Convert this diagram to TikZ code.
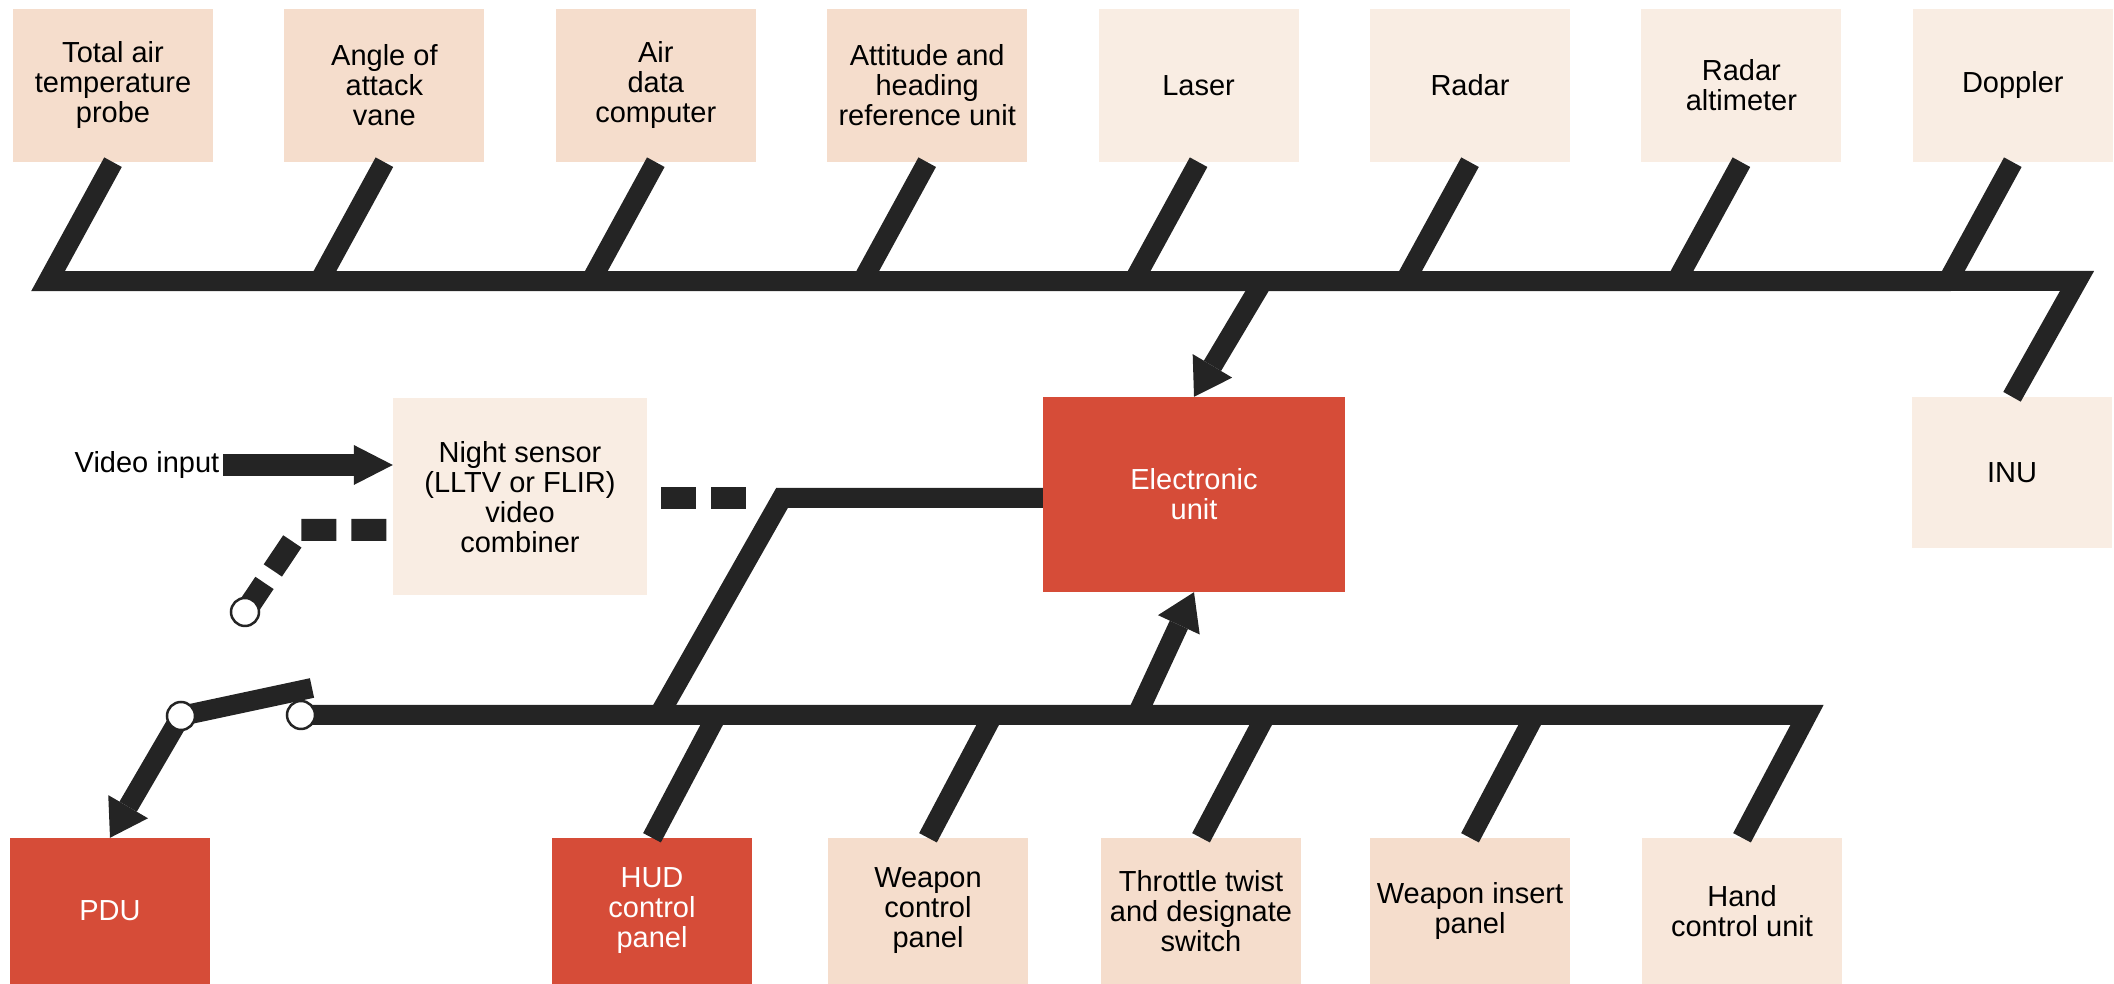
\documentclass[tikz,border=0pt]{standalone}
\usepackage{fontspec}
\setmainfont{Liberation Sans}
\usetikzlibrary{positioning, arrows.meta}

\definecolor{busgray}{RGB}{36,36,36}
\definecolor{peach}{RGB}{245,221,204}
\definecolor{cream}{RGB}{249,237,227}
\definecolor{blush}{RGB}{248,231,218}
\definecolor{unitred}{RGB}{214,76,56}

\begin{document}
\begin{tikzpicture}[
        x=1pt, y=1pt,
        box/.style = {minimum width=200pt, inner sep=2pt, align=center, font=\fontsize{29pt}{30pt}\selectfont},
        S/.style = {box, fill=peach, minimum height=153pt},
        C/.style = {box, fill=cream, minimum height=153pt},
        P/.style = {minimum height=146pt},
        R/.style = {box, fill=unitred, text=white},
        bus/.style = {line width=20pt, busgray},
        dashbus/.style = {line width=22pt, busgray, dash pattern=on 35pt off 15pt},
        arrow/.style = {bus, -{Triangle[length=36pt, width=46pt, line width=0pt]}},
        term/.style = {circle, draw=busgray, fill=white, line width=2.5pt, minimum size=28pt, inner sep=0pt}
    ]
    \useasboundingbox (0,0) rectangle (2114,984);

    % sensors on the top bus
    \node[S] (tat) at (113,898.5) {Total air\\temperature\\probe};
    \node[S, right=71pt of tat] (aoa) {Angle of\\attack\\vane};
    \node[S, right=71pt of aoa] (adc) {Air\\data\\computer};
    \node[S, right=71pt of adc] (ahr) {Attitude and\\heading\\reference unit};
    \node[C, right=71pt of ahr] (las) {Laser};
    \node[C, right=71pt of las] (rad) {Radar};
    \node[C, right=71pt of rad] (ral) {Radar\\altimeter};
    \node[C, right=71pt of ral] (dop) {Doppler};

    \node[C, minimum height=151pt] (inu) at (2012,511.5) {INU};
    \node[R, minimum width=302pt, minimum height=195pt] (eu) at (1194,489.5) {Electronic\\unit};
    \node[C, minimum width=254pt, minimum height=197pt] (nsc) at (520,487) {Night sensor\\(LLTV or FLIR)\\video\\combiner};
    \node[font=\fontsize{29pt}{30pt}\selectfont, inner sep=4pt] (vin) at (147,519) {Video input};

    % units on the bottom bus
    \node[R, P] (pdu) at (110,73) {PDU};
    \node[R, P] (hud) at (652,73) {HUD\\control\\panel};
    \node[S, P] (wcp) at (928,73) {Weapon\\control\\panel};
    \node[S, P] (ttd) at (1201,73) {Throttle twist\\and designate\\switch};
    \node[S, P] (wip) at (1470,73) {Weapon insert\\panel};
    \node[box, P, fill=blush] (hcu) at (1742,73) {Hand\\control unit};

    \coordinate (tbR) at (2077,703);
    \coordinate (ta) at (1263,703);
    \coordinate (sbL) at (301,269);
    \coordinate (sbR) at (1807,269);
    \coordinate (ba) at (1137,269);
    \coordinate (jb) at (659,269);
    \coordinate (jc) at (782,486);
    \coordinate (swp) at (181,268);
    \coordinate (swt) at (312,296);
    \coordinate (nvt) at (245,372);
    \coordinate (nvk) at (300,454);

    % top bus
    \draw[bus] (tat.south) -- ++(-65,-119) -- (tbR) -- (inu.north);
    \draw[bus] (aoa.south) -- ++(-65,-119);
    \draw[bus] (adc.south) -- ++(-65,-119);
    \draw[bus] (ahr.south) -- ++(-65,-119);
    \draw[bus] (las.south) -- ++(-65,-119);
    \draw[bus] (rad.south) -- ++(-65,-119);
    \draw[bus] (ral.south) -- ++(-65,-119);
    \draw[bus] (dop.south) -- ++(-65,-119);
    \draw[arrow] (ta) -- (eu.north);

    % bottom bus
    \draw[bus] (sbL) -- (sbR) -- (hcu.north);
    \draw[bus] (hud.north) -- ++(65,123);
    \draw[bus] (wcp.north) -- ++(65,123);
    \draw[bus] (ttd.north) -- ++(65,123);
    \draw[bus] (wip.north) -- ++(65,123);
    \draw[arrow] (ba) -- (eu.south);
    \draw[bus] (jb) -- (jc) -- (jc -| eu.west);

    % night sensor
    \draw[busgray, line width=22pt, -{Triangle[length=39pt, width=40pt, line width=0pt]}] (vin.east) -- (vin.east -| nsc.west);
    \draw[dashbus] (nvt) -- (nvk) -- (nvk -| nsc.west);
    \draw[dashbus, dash phase=36pt] (nsc.east |- jc) -- ++(100,0);

    % switch
    \draw[bus] (swp) -- (swt);
    \draw[arrow] (swp) -- (pdu.north);

    \node[term] (swA) at (swp) {};
    \node[term] (swB) at (sbL) {};
    \node[term] (swC) at (nvt) {};

\end{tikzpicture}
\end{document}
